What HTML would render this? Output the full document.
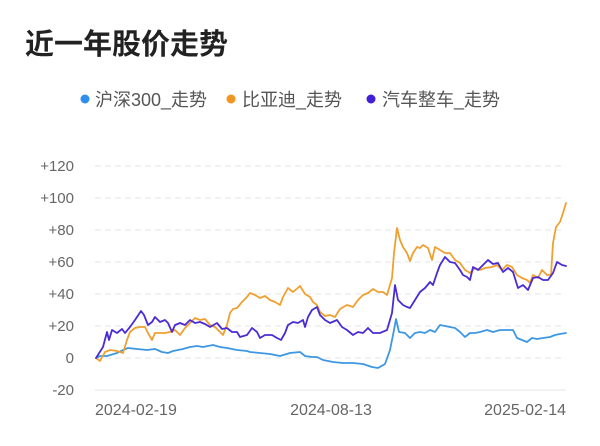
<!DOCTYPE html>
<html>
<head>
<meta charset="utf-8">
<style>
html,body{margin:0;padding:0;background:#fff;}
body{width:600px;height:446px;overflow:hidden;}
svg{display:block;}
.t{font-family:"Liberation Sans","Noto Sans CJK SC",sans-serif;}
</style>
</head>
<body>
<svg width="600" height="446" viewBox="0 0 600 446" xmlns="http://www.w3.org/2000/svg">
<rect width="600" height="446" fill="#fff"/>
<text class="t" x="25" y="54" font-size="29" font-weight="bold" fill="#222">近一年股价走势</text>

<!-- legend -->
<circle cx="85" cy="99" r="4.5" fill="#2f8fee"/>
<text class="t" x="95" y="106" font-size="18" fill="#555">沪深300_走势</text>
<circle cx="231" cy="99" r="4.5" fill="#f29420"/>
<text class="t" x="242" y="106" font-size="18" fill="#555">比亚迪_走势</text>
<circle cx="371" cy="99" r="4.5" fill="#3f1fd8"/>
<text class="t" x="382" y="106" font-size="18" fill="#555">汽车整车_走势</text>

<!-- grid -->
<g stroke="#e4e4e4" stroke-width="1" stroke-dasharray="6,4">
<line x1="95" y1="166" x2="565" y2="166"/>
<line x1="95" y1="198" x2="565" y2="198"/>
<line x1="95" y1="230" x2="565" y2="230"/>
<line x1="95" y1="262" x2="565" y2="262"/>
<line x1="95" y1="294" x2="565" y2="294"/>
<line x1="95" y1="326" x2="565" y2="326"/>
<line x1="95" y1="358" x2="565" y2="358"/>
</g>
<line x1="95" y1="390" x2="566" y2="390" stroke="#e6e6e6" stroke-width="1"/>

<!-- y labels -->
<g class="t" font-size="15" fill="#666" text-anchor="end">
<text x="74" y="171">+120</text>
<text x="74" y="203">+100</text>
<text x="74" y="235">+80</text>
<text x="74" y="267">+60</text>
<text x="74" y="299">+40</text>
<text x="74" y="331">+20</text>
<text x="74" y="363">0</text>
<text x="74" y="395">-20</text>
</g>

<!-- x labels -->
<g class="t" font-size="16" fill="#666">
<text x="95" y="415">2024-02-19</text>
<text x="331" y="415" text-anchor="middle">2024-08-13</text>
<text x="566" y="415" text-anchor="end">2025-02-14</text>
</g>

<!-- series -->
<g fill="none" stroke-width="1.8" stroke-linejoin="round" stroke-linecap="round">
<polyline stroke="#3d97e3" points="96,358 100,356 107,356 117,353 123,350 128,348 137,349 147,350 155,349 162,352 168,353 173,351 183,349 190,347 197,346 203,347 213,345 220,347 227,348 237,350 247,351 250,352 260,353 270,354 280,356 290,353 300,352 305,356 312,357 317,357 323,360 333,362 343,363 353,363 363,364 372,367 378,368 385,364 390,350 394,330 396,319 399,332 405,333 410,338 415,333 420,332 425,333 430,330 435,332 440,325 445,326 450,327 455,328 460,332 465,337 470,333 475,333 480,332 487,330 493,332 500,330 507,330 513,330 517,338 522,340 527,342 532,338 537,339 543,338 550,337 555,335 560,334 566,333"/>
<polyline stroke="#efa030" points="96,358 100,361 105,352 110,350 117,351 123,353 127,340 130,332 135,328 140,327 145,327 148,333 152,340 155,333 160,333 165,333 170,332 175,330 180,335 185,328 190,323 195,318 200,320 205,319 210,325 215,327 220,332 223,335 227,325 230,313 233,309 237,308 242,302 247,297 250,293 255,295 260,298 265,296 270,300 275,302 280,305 283,297 288,288 293,292 300,286 305,294 310,297 313,302 317,305 320,312 325,316 330,315 335,317 340,309 347,305 353,307 358,300 363,295 368,293 373,289 378,292 383,292 387,295 392,278 394,253 397,228 400,240 403,247 407,253 410,261 413,253 417,247 420,248 423,245 428,248 432,260 435,247 440,250 445,253 450,253 455,260 460,263 465,270 470,273 475,268 480,270 485,268 492,267 497,265 502,270 507,265 512,267 517,275 522,278 527,280 530,283 533,275 538,278 542,270 547,275 551,275 553,243 556,227 560,222 563,213 566,203"/>
<polyline stroke="#4a2bd4" points="96,358 103,347 107,332 109,340 112,330 117,333 122,329 125,333 130,327 135,320 141,311 144,315 148,325 152,322 155,317 160,322 165,320 168,323 172,332 175,325 180,323 185,325 190,320 195,323 200,322 205,324 210,327 217,323 222,329 227,328 232,332 237,332 240,337 247,335 252,328 257,332 260,338 265,335 272,335 277,338 281,340 285,333 288,325 293,322 298,323 303,320 305,327 308,317 312,310 317,307 320,315 325,320 330,323 337,320 342,327 347,330 353,335 358,332 363,333 368,328 373,333 380,333 387,330 392,313 395,285 398,300 403,305 407,307 410,308 415,300 420,292 425,288 430,282 433,285 437,273 440,265 445,257 450,262 455,263 460,270 463,275 467,277 470,280 473,267 478,270 483,265 488,260 493,264 498,263 503,272 508,268 513,272 518,288 523,285 528,290 533,278 538,277 543,280 548,280 553,273 557,262 562,265 566,266"/>
</g>
</svg>
</body>
</html>
